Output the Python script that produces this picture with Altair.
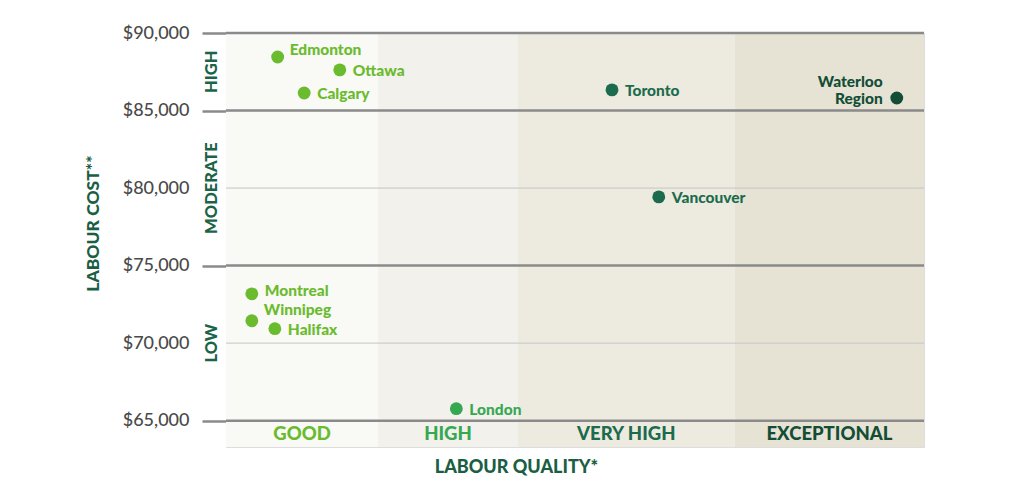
import altair as alt
import pandas as pd

# ---- data ----
cities = ["Edmonton", "Ottawa", "Calgary", "Toronto", "Waterloo Region",
          "Vancouver", "Montreal", "Winnipeg", "Halifax", "London"]
quality_score = [7.4, 16.3, 11.2, 55.3, 96.1, 62.0, 3.7, 3.7, 7.0, 33.0]
labour_cost = [88450, 87620, 86130, 86330, 85810, 79430, 73180, 71440, 70930, 65770]
quality_group = ["GOOD", "GOOD", "GOOD", "VERY HIGH", "EXCEPTIONAL",
                 "VERY HIGH", "GOOD", "GOOD", "GOOD", "HIGH"]

quality_bands = ["GOOD", "HIGH", "VERY HIGH", "EXCEPTIONAL"]
band_start = [0, 21.8, 41.8, 72.9]
band_end = [21.8, 41.8, 72.9, 100]
band_text_colors = ["#6abb2e", "#36a852", "#1d6b4e", "#134d36"]
band_fill_colors = ["#f9f9f6", "#f2f1eb", "#edebe0", "#e6e3d5"]

cost_bands = ["HIGH", "MODERATE", "LOW"]
cost_band_center = [87500, 80000, 70000]

major_lines = [90000, 85000, 75000, 65000]
minor_lines = [80000, 70000]
tick_values = [65000, 70000, 75000, 80000, 85000, 90000]

Y_MIN, Y_MAX = 63300, 90000
W, H = 698, 414
FONT = "Lato"

pts = pd.DataFrame({"city": cities, "q": quality_score, "cost": labour_cost,
                    "grp": quality_group})
bands = pd.DataFrame({"band": quality_bands, "x0": band_start, "x1": band_end})
bands["xm"] = (bands["x0"] + bands["x1"]) / 2
bands["ylab"] = (Y_MIN + min(major_lines)) / 2
cb = pd.DataFrame({"label": cost_bands, "y": cost_band_center})

xscale = alt.Scale(domain=[0, 100], nice=False, zero=False)
yscale = alt.Scale(domain=[Y_MIN, Y_MAX], nice=False, zero=False)
fill_scale = alt.Scale(domain=quality_bands, range=band_fill_colors)
text_scale = alt.Scale(domain=quality_bands, range=band_text_colors)

bg = alt.Chart(bands).mark_rect().encode(
    x=alt.X("x0:Q", scale=xscale,
            axis=alt.Axis(labels=False, ticks=False, domain=False, grid=False,
                          title="LABOUR QUALITY*", titleFont=FONT, titleFontSize=18,
                          titleFontWeight=900, titleColor="#1b5e44",
                          titleX=290, titleY=20, titleAlign="center",
                          titleBaseline="middle")),
    x2="x1:Q",
    y=alt.datum(Y_MIN, scale=yscale,
                axis=alt.Axis(values=tick_values, format="$,.0f", grid=False,
                              domain=False, tickSize=24,
                              tickColor={"condition": {"test": "datum.value == 80000 || datum.value == 70000",
                                                       "value": "transparent"},
                                         "value": "#8a8a8a"},
                              tickWidth=2.5, labelPadding=13,
                              labelFont=FONT, labelFontSize=18, labelFontWeight=500,
                              labelColor="#4a4a4a",
                              title="LABOUR COST**", titleFont=FONT, titleFontSize=17.5,
                              titleFontWeight=900, titleColor="#1b5e44",
                              titleAngle=270, titleX=-133, titleY=190,
                              titleAlign="center", titleBaseline="middle")),
    y2=alt.datum(Y_MAX),
    fill=alt.Fill("band:N", scale=fill_scale, legend=None),
)

minor = alt.Chart(pd.DataFrame({"v": minor_lines})).mark_rule(
    color="#c4c4c4", strokeWidth=1).encode(y=alt.Y("v:Q", scale=yscale))
major = alt.Chart(pd.DataFrame({"v": major_lines})).mark_rule(
    color="#8a8a8a", strokeWidth=2.5).encode(y=alt.Y("v:Q", scale=yscale))

band_labels = alt.Chart(bands).mark_text(
    font=FONT, fontSize=18.5, fontWeight=900, baseline="middle").encode(
    x=alt.X("xm:Q", scale=xscale), y=alt.Y("ylab:Q", scale=yscale),
    text="band:N",
    color=alt.Color("band:N", scale=text_scale, legend=None))

cost_labels = alt.Chart(cb).mark_text(
    font=FONT, fontSize=16.5, fontWeight=900, angle=270, baseline="middle",
    align="center", color="#1b6448").encode(
    x=alt.value(-14), y=alt.Y("y:Q", scale=yscale), text="label:N")

points = alt.Chart(pts).mark_circle(size=165, opacity=1).encode(
    x=alt.X("q:Q", scale=xscale), y=alt.Y("cost:Q", scale=yscale),
    color=alt.Color("grp:N", scale=text_scale, legend=None))

def lab(filter_expr, dx, dy, align="left", baseline="middle"):
    return alt.Chart(pts).transform_filter(filter_expr).transform_calculate(
        lab="replace(datum.city, ' ', '\\n')"
    ).mark_text(
        font=FONT, fontSize=15.5, fontWeight=900, align=align, baseline=baseline,
        dx=dx, dy=dy, lineBreak="\n", lineHeight=17).encode(
        x=alt.X("q:Q", scale=xscale), y=alt.Y("cost:Q", scale=yscale),
        text="lab:N",
        color=alt.Color("grp:N", scale=text_scale, legend=None))

special = ["Edmonton", "Winnipeg", "Montreal", "Waterloo Region"]
main_filter = " && ".join(f"datum.city != '{c}'" for c in special)
lab_main = lab(main_filter, 13, 1)
lab_up = lab("datum.city == 'Edmonton'", 12, -7)
lab_mtl = lab("datum.city == 'Montreal'", 13, -3)
lab_wpg = lab("datum.city == 'Winnipeg'", 12, -11)
lab_wat = lab("datum.city == 'Waterloo Region'", -14, -16, align="right", baseline="middle")

chart = alt.layer(bg, minor, major, band_labels, cost_labels, points,
                  lab_main, lab_up, lab_mtl, lab_wpg, lab_wat).properties(
    width=W, height=H,
    autosize=alt.AutoSizeParams(type="none"),
    padding={"left": 218, "top": 25, "right": 70, "bottom": 40},
).configure_view(stroke=None).configure(background="white")

chart.save("out.html", embed_options={"renderer": "svg", "actions": False})
